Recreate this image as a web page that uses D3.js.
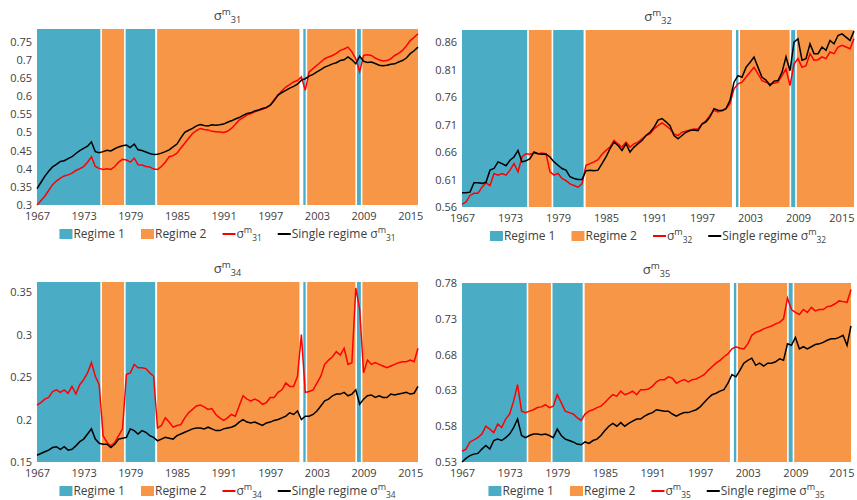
<!DOCTYPE html>
<html>
<head>
<meta charset="utf-8">
<script src="https://cdn.jsdelivr.net/npm/d3@7"></script>
<style>
  body { margin: 0; background: #fff; }
  svg text { font-family: "Open Sans", "Liberation Sans", sans-serif; fill: #404040; }
</style>
</head>
<body>
<div id="chart"></div>
<script>
var width = 857;
var height = 500;

// half-year observation grid, 1967.0 ... 2016.0
var years = d3.range(1967, 2016.01, 0.5);
var xTickYears = [1967, 1973, 1979, 1985, 1991, 1997, 2003, 2009, 2015];

// regime periods [start, end]
var regime1Spans = [[1967, 1975.15], [1978.4, 1982.2], [2001.25, 2001.55], [2008.15, 2008.65]];
var regime2Spans = [[1975.35, 1978.2], [1982.45, 2000.75], [2001.75, 2007.95], [2008.85, 2016]];

var s31Regime = [
  .300,.312,.324,.340,.356,.366,.374,.380,.383,.388,
  .395,.400,.406,.418,.433,.406,.401,.398,.400,.398,
  .406,.418,.426,.424,.418,.429,.411,.410,.406,.405,
  .399,.398,.406,.418,.433,.436,.443,.457,.470,.484,
  .497,.505,.511,.508,.507,.503,.502,.501,.500,.503,
  .511,.522,.534,.541,.548,.552,.557,.560,.564,.568,
  .575,.590,.603,.615,.625,.632,.639,.643,.653,.616,
  .667,.676,.685,.694,.703,.708,.712,.718,.726,.730,
  .735,.722,.703,.667,.712,.714,.712,.705,.700,.697,
  .698,.703,.712,.718,.726,.738,.753,.762,.772];
var s31Single = [
  .345,.362,.379,.393,.405,.412,.420,.422,.428,.433,
  .442,.450,.456,.462,.474,.447,.444,.447,.451,.449,
  .455,.460,.463,.465,.458,.468,.452,.450,.446,.442,
  .439,.440,.443,.447,.452,.460,.468,.485,.500,.506,
  .511,.518,.522,.519,.518,.521,.520,.521,.523,.528,
  .532,.537,.541,.547,.552,.554,.559,.562,.566,.569,
  .575,.588,.603,.610,.616,.622,.627,.633,.644,.648,
  .655,.660,.667,.673,.680,.684,.689,.692,.698,.700,
  .708,.700,.689,.710,.696,.693,.694,.690,.685,.684,
  .685,.688,.689,.694,.698,.705,.717,.725,.735];

var s32Regime = [
  .565,.569,.581,.585,.585,.596,.604,.599,.621,.618,
  .621,.618,.627,.639,.624,.651,.657,.656,.658,.657,
  .658,.657,.624,.618,.621,.612,.608,.602,.599,.596,
  .602,.636,.639,.642,.646,.656,.663,.669,.681,.675,
  .669,.678,.669,.675,.678,.684,.690,.693,.702,.708,
  .713,.708,.702,.693,.690,.696,.698,.700,.702,.702,
  .711,.717,.727,.736,.733,.736,.739,.748,.775,.784,
  .787,.796,.805,.814,.802,.790,.787,.784,.785,.787,
  .799,.811,.781,.820,.830,.814,.817,.839,.827,.828,
  .833,.830,.842,.839,.851,.854,.851,.848,.866];
var s32Single = [
  .586,.586,.587,.604,.604,.603,.605,.627,.630,.642,
  .639,.635,.645,.651,.663,.642,.644,.648,.660,.657,
  .656,.656,.651,.642,.636,.630,.627,.615,.612,.610,
  .610,.626,.627,.626,.627,.639,.651,.666,.678,.672,
  .663,.675,.660,.669,.675,.681,.690,.696,.705,.718,
  .721,.715,.708,.690,.684,.690,.696,.699,.700,.699,
  .711,.715,.724,.739,.736,.735,.739,.754,.787,.799,
  .796,.814,.823,.833,.814,.796,.791,.781,.789,.790,
  .805,.833,.808,.860,.866,.827,.830,.857,.839,.839,
  .851,.845,.863,.857,.872,.875,.869,.863,.880];

var s34Regime = [
  .217,.220,.224,.226,.233,.235,.232,.235,.231,.239,
  .230,.241,.247,.255,.267,.251,.241,.181,.173,.169,
  .173,.181,.189,.253,.255,.265,.261,.261,.260,.255,
  .251,.190,.193,.202,.197,.191,.193,.194,.202,.208,
  .212,.216,.217,.215,.212,.213,.206,.202,.199,.202,
  .206,.204,.216,.228,.224,.222,.224,.222,.218,.220,
  .226,.226,.232,.235,.243,.239,.239,.251,.300,.232,
  .233,.235,.243,.251,.265,.270,.274,.280,.276,.284,
  .265,.267,.355,.330,.255,.270,.265,.267,.265,.263,
  .261,.263,.265,.267,.268,.268,.270,.268,.284];
var s34Single = [
  .158,.160,.162,.164,.167,.168,.165,.168,.164,.165,
  .169,.174,.177,.183,.189,.177,.172,.171,.171,.167,
  .171,.177,.178,.179,.189,.187,.183,.187,.185,.181,
  .179,.175,.177,.179,.178,.177,.181,.183,.185,.187,
  .189,.190,.190,.189,.191,.189,.187,.187,.189,.190,
  .191,.193,.197,.200,.197,.196,.197,.195,.193,.196,
  .197,.199,.200,.202,.204,.208,.206,.210,.200,.204,
  .204,.206,.210,.216,.222,.224,.228,.230,.230,.232,
  .228,.230,.235,.218,.224,.228,.229,.226,.228,.226,
  .226,.230,.229,.230,.231,.232,.230,.231,.239];

var s35Regime = [
  .545,.548,.558,.561,.564,.569,.580,.576,.571,.583,
  .578,.590,.597,.615,.638,.601,.599,.601,.603,.606,
  .607,.610,.606,.608,.624,.613,.601,.599,.597,.592,
  .588,.597,.601,.603,.606,.608,.613,.619,.624,.622,
  .629,.624,.626,.629,.624,.631,.631,.632,.636,.642,
  .645,.645,.649,.647,.640,.643,.645,.642,.645,.646,
  .649,.652,.658,.663,.668,.672,.677,.681,.688,.691,
  .689,.688,.695,.707,.711,.713,.716,.718,.720,.723,
  .725,.730,.759,.743,.739,.736,.743,.739,.746,.741,
  .743,.743,.747,.748,.751,.755,.754,.753,.771];
var s35Single = [
  .530,.535,.539,.541,.542,.548,.553,.548,.560,.562,
  .560,.564,.569,.578,.590,.567,.564,.567,.569,.569,
  .568,.569,.567,.564,.576,.567,.562,.560,.558,.555,
  .554,.558,.556,.560,.562,.567,.574,.580,.584,.580,
  .585,.580,.584,.587,.590,.590,.594,.597,.599,.603,
  .602,.601,.601,.597,.594,.597,.599,.599,.601,.603,
  .607,.613,.619,.624,.626,.629,.631,.640,.652,.649,
  .658,.668,.672,.675,.665,.668,.664,.668,.668,.670,
  .674,.672,.695,.693,.704,.688,.691,.688,.691,.694,
  .695,.697,.700,.702,.702,.704,.707,.693,.720];

var yTicks31 = [0.3, 0.35, 0.4, 0.45, 0.5, 0.55, 0.6, 0.65, 0.7, 0.75];
var yTicks32 = [0.56, 0.61, 0.66, 0.71, 0.76, 0.81, 0.86];
var yTicks34 = [0.15, 0.2, 0.25, 0.3, 0.35];
var yTicks35 = [0.53, 0.58, 0.63, 0.68, 0.73, 0.78];

var blue = "#4bacc6", orange = "#f79646";

var panels = [
  {sub: "31", red: s31Regime, black: s31Single, yMin: 0.3, yMax: 0.785, ticks: yTicks31, x0: 37, x1: 418, y0: 29, y1: 205},
  {sub: "32", red: s32Regime, black: s32Single, yMin: 0.56, yMax: 0.882, ticks: yTicks32, x0: 462, x1: 854, y0: 30, y1: 207},
  {sub: "34", red: s34Regime, black: s34Single, yMin: 0.15, yMax: 0.362, ticks: yTicks34, x0: 37, x1: 418, y0: 282, y1: 462},
  {sub: "35", red: s35Regime, black: s35Single, yMin: 0.53, yMax: 0.78, ticks: yTicks35, x0: 462, x1: 851, y0: 283, y1: 462}
];

var svg = d3.select("#chart")
  .append("svg")
  .attr("width", width)
  .attr("height", height);

function sigma(textSel, sub, size) {
  textSel.append("tspan").text("σ").attr("font-size", size);
  textSel.append("tspan").text("m").attr("font-size", size * 0.75).attr("dy", -size * 0.4);
  textSel.append("tspan").text(sub).attr("font-size", size * 0.7).attr("dy", size * 0.65);
}

panels.forEach(function(p) {
  var x = d3.scaleLinear().domain([1967, 2016]).range([p.x0, p.x1]);
  var y = d3.scaleLinear().domain([p.yMin, p.yMax]).range([p.y1, p.y0]);
  var g = svg.append("g");

  g.selectAll("rect.r1")
    .data(regime1Spans)
    .enter()
    .append("rect")
    .attr("x", function(d){ return x(d[0]); })
    .attr("width", function(d){ return x(d[1]) - x(d[0]); })
    .attr("y", p.y0)
    .attr("height", p.y1 - p.y0)
    .attr("fill", blue);

  g.selectAll("rect.r2")
    .data(regime2Spans)
    .enter()
    .append("rect")
    .attr("x", function(d){ return x(d[0]); })
    .attr("width", function(d){ return x(d[1]) - x(d[0]); })
    .attr("y", p.y0)
    .attr("height", p.y1 - p.y0)
    .attr("fill", orange);

  var line = function(vals) {
    return d3.line()
      .x(function(d, i){ return x(years[i]); })
      .y(function(d){ return y(d); })(vals);
  };

  g.append("path").attr("d", line(p.red))
    .attr("fill", "none").attr("stroke", "#ff0000").attr("stroke-width", 1.5);
  g.append("path").attr("d", line(p.black))
    .attr("fill", "none").attr("stroke", "#000").attr("stroke-width", 1.5);

  var xAxis = g.append("g")
    .attr("transform", "translate(0," + p.y1 + ")")
    .call(d3.axisBottom(x).tickValues(xTickYears).tickFormat(d3.format("d")).tickSize(0).tickPadding(7));
  var yAxis = g.append("g")
    .attr("transform", "translate(" + p.x0 + ",0)")
    .call(d3.axisLeft(y).tickValues(p.ticks).tickFormat(d3.format("~g")).tickSize(0).tickPadding(5));
  [xAxis, yAxis].forEach(function(a) {
    a.select(".domain").remove();
    a.selectAll("text").attr("font-size", 11).attr("font-family", null).style("fill", "#404040");
  });
  // keep the last year label inside the page
  xAxis.selectAll("text").each(function(d) {
    var w = this.getComputedTextLength();
    var over = x(d) + w / 2 - (width - 3);
    if (over > 0) d3.select(this).attr("dx", -over);
  });

  // title
  var cx = (p.x0 + p.x1) / 2;
  var t = g.append("text").attr("x", cx).attr("y", p.y0 - 9).attr("text-anchor", "middle");
  sigma(t, p.sub, 13);

  // legend
  var leg = g.append("g");
  var ly = p.y1 + 29;
  var pos = 0;
  var items = [
    {type: "box", color: blue, label: "Regime 1"},
    {type: "box", color: orange, label: "Regime 2"},
    {type: "line", color: "#ff0000", label: ""},
    {type: "line", color: "#000", label: "Single regime "}
  ];
  items.forEach(function(it) {
    if (it.type === "box") {
      leg.append("rect").attr("x", pos).attr("y", ly - 5).attr("width", 13).attr("height", 10).attr("fill", it.color);
    } else {
      leg.append("line").attr("x1", pos).attr("x2", pos + 13).attr("y1", ly).attr("y2", ly)
        .attr("stroke", it.color).attr("stroke-width", 2);
    }
    var txt = leg.append("text").attr("x", pos + 14).attr("y", ly + 4).attr("font-size", 12);
    if (it.label) txt.append("tspan").text(it.label);
    if (it.type === "line") sigma(txt, p.sub, 12);
    pos += 14 + txt.node().getComputedTextLength() + 16;
  });
  var total = pos - 16;
  leg.attr("transform", "translate(" + (cx - total / 2) + ",0)");
});
</script>
</body>
</html>
